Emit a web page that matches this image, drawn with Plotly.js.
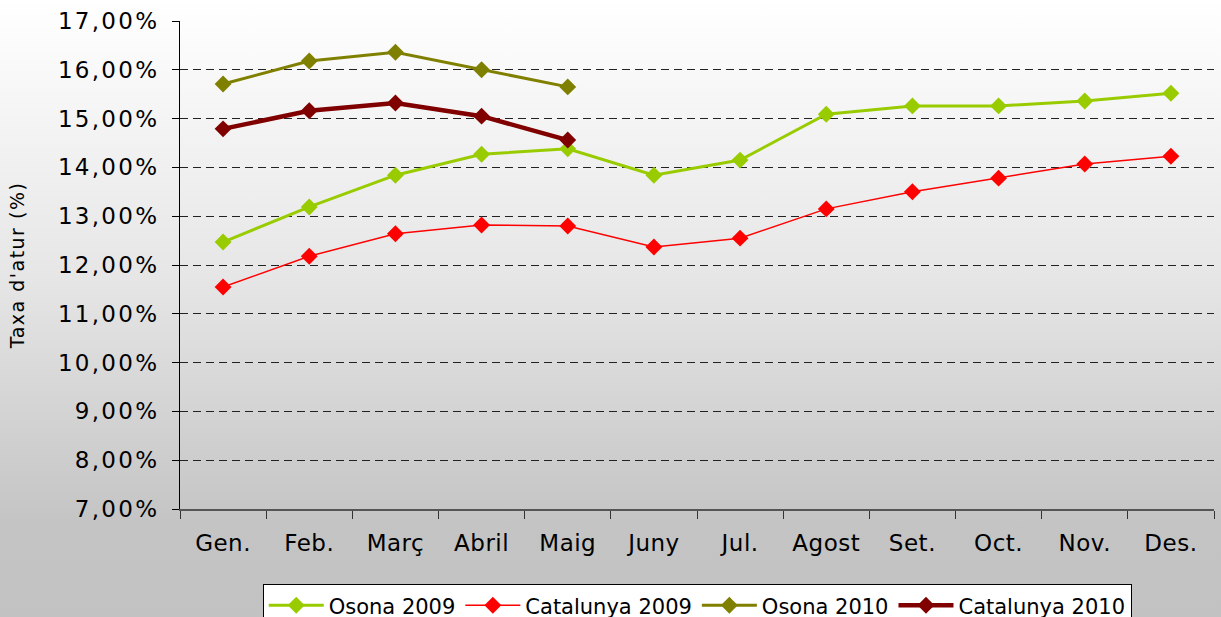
<!DOCTYPE html>
<html>
<head>
<meta charset="utf-8">
<script src="https://cdn.plot.ly/plotly-3.0.1.min.js"></script>
<style>
  html, body { margin: 0; padding: 0; }
  #chart {
    width: 1221px; height: 617px;
    background: linear-gradient(to bottom, #ffffff 0%, #e6e6e6 45%, #c4c4c4 85%, #c2c2c2 100%);
  }
  #chart .xtick text { letter-spacing: 0.5px; }
  #chart .ytick text { letter-spacing: 2.3px; }
  #chart .ytitle { letter-spacing: 1.5px; }
</style>
</head>
<body>
<div id="chart"></div>
<script>
const months = ["Gen.", "Feb.", "Març", "Abril", "Maig", "Juny", "Jul.", "Agost", "Set.", "Oct.", "Nov.", "Des."];
const osona2009 = [12.47, 13.19, 13.84, 14.27, 14.38, 13.84, 14.15, 15.09, 15.26, 15.26, 15.36, 15.52];
const catalunya2009 = [11.55, 12.18, 12.64, 12.82, 12.80, 12.37, 12.55, 13.15, 13.50, 13.78, 14.07, 14.23];
const osona2010 = [15.71, 16.18, 16.36, 16.00, 15.65];
const catalunya2010 = [14.79, 15.16, 15.32, 15.05, 14.56];
const yTicks = [7, 8, 9, 10, 11, 12, 13, 14, 15, 16, 17];
const yTickText = yTicks.map(v => v.toFixed(2).replace('.', ',') + '%');

function series(name, y, color, width) {
  return {
    type: 'scatter', mode: 'lines+markers', name: name,
    x: months.slice(0, y.length), y: y,
    line: { color: color, width: width },
    marker: { symbol: 'diamond', size: 13, color: color }
  };
}

const data = [
  series('Osona 2009', osona2009, '#99CC00', 3),
  series('Catalunya 2009', catalunya2009, '#FF0000', 1.5),
  series('Osona 2010', osona2010, '#808000', 3),
  series('Catalunya 2010', catalunya2010, '#800000', 4.5)
];

const font = "'DejaVu Sans', Verdana, sans-serif";
const layout = {
  width: 1221, height: 617,
  margin: { l: 180, r: 7, t: 21, b: 108, pad: 0, autoexpand: false },
  paper_bgcolor: 'rgba(0,0,0,0)',
  plot_bgcolor: 'rgba(0,0,0,0)',
  font: { family: font, color: '#000000' },
  showlegend: true,
  legend: {
    orientation: 'h', x: 0.08, xanchor: 'left', y: -0.154, yanchor: 'top',
    bgcolor: '#ffffff', bordercolor: '#000000', borderwidth: 1,
    font: { size: 21, family: font, color: '#000000' },
    traceorder: 'normal', itemwidth: 55
  },
  xaxis: {
    type: 'category', categoryorder: 'array', categoryarray: months,
    range: [-0.5, 11.5], automargin: false,
    tickson: 'boundaries', ticks: 'outside', ticklen: 8, tickcolor: '#333333', tickwidth: 1,
    showline: true, linecolor: '#555555', linewidth: 2,
    showgrid: false, zeroline: false,
    tickfont: { size: 23, family: font, color: '#000000' },
    ticklabelstandoff: 12
  },
  yaxis: {
    range: [7, 17], tickvals: yTicks, ticktext: yTickText, automargin: false,
    ticks: 'outside', ticklen: 7, tickcolor: '#000000', tickwidth: 1,
    showline: true, linecolor: '#000000', linewidth: 1,
    showgrid: true, gridcolor: '#222222', gridwidth: 1, griddash: '8px,5px',
    zeroline: false,
    tickfont: { size: 23, family: font, color: '#000000' },
    ticklabelstandoff: 8,
    title: { text: "Taxa d'atur (%)", font: { size: 19, family: font, color: '#000000' }, standoff: 42 }
  }
};

Plotly.newPlot('chart', data, layout, { displayModeBar: false, staticPlot: true });
</script>
</body>
</html>
